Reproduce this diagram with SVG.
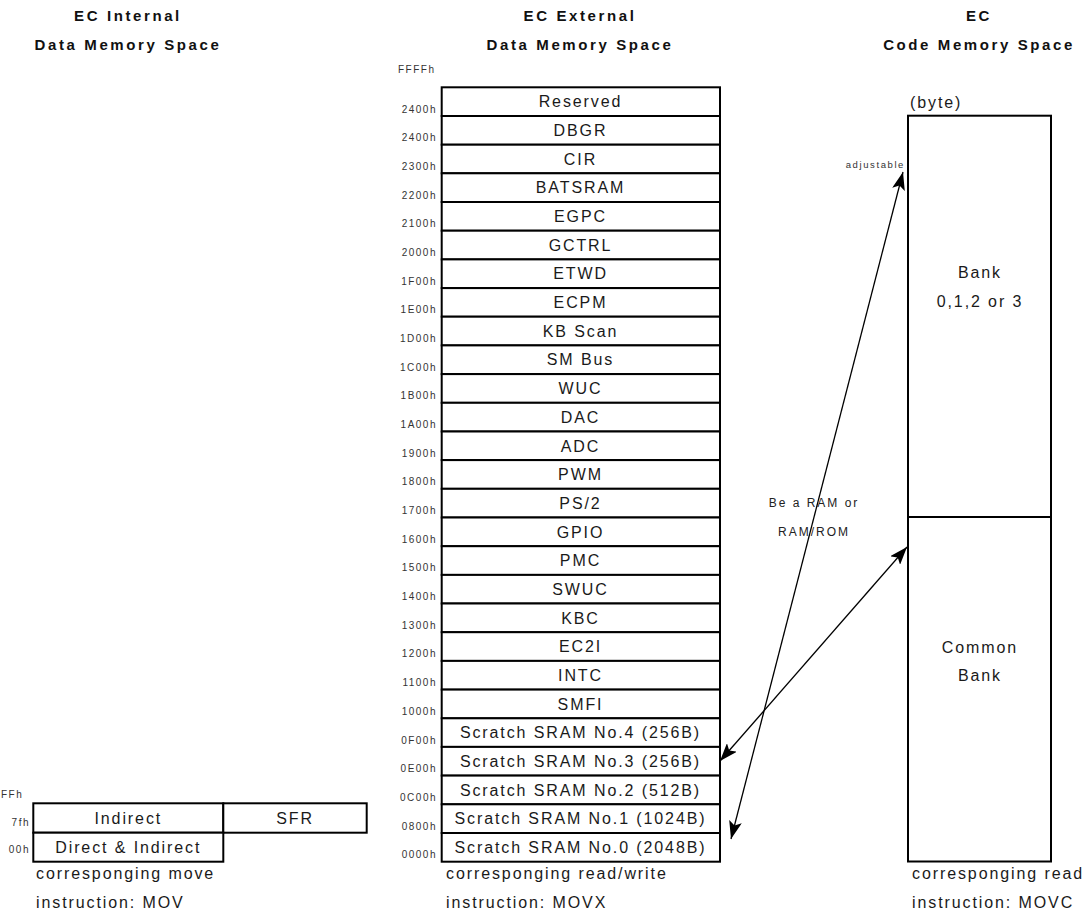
<svg xmlns="http://www.w3.org/2000/svg" width="1084" height="916" viewBox="0 0 1084 916">
<style>
.hdr{font-family:"Liberation Sans",Arial,sans-serif;font-weight:bold;font-size:15px;letter-spacing:2.6px;fill:#111;text-anchor:middle}
.t{font-family:"Liberation Sans",Arial,sans-serif;font-size:16px;letter-spacing:1.9px;fill:#1a1a1a}
.c{text-anchor:middle}
.a{font-family:"Liberation Sans",Arial,sans-serif;font-size:10px;letter-spacing:1.5px;fill:#333;text-anchor:end}
.s{font-family:"Liberation Sans",Arial,sans-serif;font-size:12px;letter-spacing:2px;fill:#222;text-anchor:middle}
.box{fill:#fff;stroke:#000;stroke-width:2}
.conn{stroke:#000;stroke-width:1.3;fill:none;marker-start:url(#ah);marker-end:url(#ah)}
</style>
<defs>
<marker id="ah" viewBox="0 0 18 13" refX="18" refY="6.5" markerWidth="18" markerHeight="13" markerUnits="userSpaceOnUse" orient="auto-start-reverse">
<path d="M0,0 L18,6.5 L0,13 L4,6.5 Z" fill="#000"/>
</marker>
</defs>
<rect width="1084" height="916" fill="#fff"/>

<g id="headers">
<text class="hdr" x="128" y="20.5">EC Internal</text>
<text class="hdr" x="128" y="50">Data Memory Space</text>
<text class="hdr" x="580" y="20.5">EC External</text>
<text class="hdr" x="580" y="50">Data Memory Space</text>
<text class="hdr" x="979" y="20.5">EC</text>
<text class="hdr" x="979" y="50">Code Memory Space</text>
</g>

<g id="internal">
<text class="a" x="1" y="798" style="text-anchor:start">FFh</text>
<g id="int-indirect"><rect class="box" x="33.3" y="803.3" width="190" height="29.4"/><text class="t c" x="128.3" y="824">Indirect</text></g>
<g id="int-sfr"><rect class="box" x="223.3" y="803.3" width="143.4" height="29.4"/><text class="t c" x="295" y="824">SFR</text></g>
<g id="int-direct"><rect class="box" x="33.3" y="832.7" width="190" height="29"/><text class="t c" x="128.3" y="853">Direct &amp; Indirect</text></g>
<text class="a" x="30" y="826">7fh</text>
<text class="a" x="30" y="853">00h</text>
<text class="t" x="36" y="879">corresponging move</text>
<text class="t" x="36" y="908">instruction: MOV</text>
</g>

<g id="external">
<text class="a" x="398" y="73" style="text-anchor:start">FFFFh</text>
<g id="r0"><rect class="box" x="441.7" y="87.3" width="278.3" height="28.7"/><text class="t c" x="580.5" y="107.3">Reserved</text><text class="a" x="437" y="112.5">2400h</text></g>
<g id="r1"><rect class="box" x="441.7" y="116.0" width="278.3" height="28.7"/><text class="t c" x="580.5" y="136.0">DBGR</text><text class="a" x="437" y="141.2">2400h</text></g>
<g id="r2"><rect class="box" x="441.7" y="144.7" width="278.3" height="28.6"/><text class="t c" x="580.5" y="164.7">CIR</text><text class="a" x="437" y="169.9">2300h</text></g>
<g id="r3"><rect class="box" x="441.7" y="173.3" width="278.3" height="28.7"/><text class="t c" x="580.5" y="193.3">BATSRAM</text><text class="a" x="437" y="198.5">2200h</text></g>
<g id="r4"><rect class="box" x="441.7" y="202.0" width="278.3" height="28.7"/><text class="t c" x="580.5" y="222.0">EGPC</text><text class="a" x="437" y="227.2">2100h</text></g>
<g id="r5"><rect class="box" x="441.7" y="230.7" width="278.3" height="28.7"/><text class="t c" x="580.5" y="250.7">GCTRL</text><text class="a" x="437" y="255.9">2000h</text></g>
<g id="r6"><rect class="box" x="441.7" y="259.4" width="278.3" height="28.7"/><text class="t c" x="580.5" y="279.4">ETWD</text><text class="a" x="437" y="284.6">1F00h</text></g>
<g id="r7"><rect class="box" x="441.7" y="288.1" width="278.3" height="28.6"/><text class="t c" x="580.5" y="308.1">ECPM</text><text class="a" x="437" y="313.3">1E00h</text></g>
<g id="r8"><rect class="box" x="441.7" y="316.7" width="278.3" height="28.7"/><text class="t c" x="580.5" y="336.7">KB Scan</text><text class="a" x="437" y="341.9">1D00h</text></g>
<g id="r9"><rect class="box" x="441.7" y="345.4" width="278.3" height="28.7"/><text class="t c" x="580.5" y="365.4">SM Bus</text><text class="a" x="437" y="370.6">1C00h</text></g>
<g id="r10"><rect class="box" x="441.7" y="374.1" width="278.3" height="28.7"/><text class="t c" x="580.5" y="394.1">WUC</text><text class="a" x="437" y="399.3">1B00h</text></g>
<g id="r11"><rect class="box" x="441.7" y="402.8" width="278.3" height="28.7"/><text class="t c" x="580.5" y="422.8">DAC</text><text class="a" x="437" y="428.0">1A00h</text></g>
<g id="r12"><rect class="box" x="441.7" y="431.5" width="278.3" height="28.6"/><text class="t c" x="580.5" y="451.5">ADC</text><text class="a" x="437" y="456.7">1900h</text></g>
<g id="r13"><rect class="box" x="441.7" y="460.1" width="278.3" height="28.7"/><text class="t c" x="580.5" y="480.1">PWM</text><text class="a" x="437" y="485.3">1800h</text></g>
<g id="r14"><rect class="box" x="441.7" y="488.8" width="278.3" height="28.7"/><text class="t c" x="580.5" y="508.8">PS/2</text><text class="a" x="437" y="514.0">1700h</text></g>
<g id="r15"><rect class="box" x="441.7" y="517.5" width="278.3" height="28.7"/><text class="t c" x="580.5" y="537.5">GPIO</text><text class="a" x="437" y="542.7">1600h</text></g>
<g id="r16"><rect class="box" x="441.7" y="546.2" width="278.3" height="28.7"/><text class="t c" x="580.5" y="566.2">PMC</text><text class="a" x="437" y="571.4">1500h</text></g>
<g id="r17"><rect class="box" x="441.7" y="574.9" width="278.3" height="28.6"/><text class="t c" x="580.5" y="594.9">SWUC</text><text class="a" x="437" y="600.1">1400h</text></g>
<g id="r18"><rect class="box" x="441.7" y="603.5" width="278.3" height="28.7"/><text class="t c" x="580.5" y="623.5">KBC</text><text class="a" x="437" y="628.7">1300h</text></g>
<g id="r19"><rect class="box" x="441.7" y="632.2" width="278.3" height="28.7"/><text class="t c" x="580.5" y="652.2">EC2I</text><text class="a" x="437" y="657.4">1200h</text></g>
<g id="r20"><rect class="box" x="441.7" y="660.9" width="278.3" height="28.7"/><text class="t c" x="580.5" y="680.9">INTC</text><text class="a" x="437" y="686.1">1100h</text></g>
<g id="r21"><rect class="box" x="441.7" y="689.6" width="278.3" height="28.7"/><text class="t c" x="580.5" y="709.6">SMFI</text><text class="a" x="437" y="714.8">1000h</text></g>
<g id="r22"><rect class="box" x="441.7" y="718.3" width="278.3" height="28.6"/><text class="t c" x="580.5" y="738.3">Scratch SRAM No.4 (256B)</text><text class="a" x="437" y="743.5">0F00h</text></g>
<g id="r23"><rect class="box" x="441.7" y="746.9" width="278.3" height="28.7"/><text class="t c" x="580.5" y="766.9">Scratch SRAM No.3 (256B)</text><text class="a" x="437" y="772.1">0E00h</text></g>
<g id="r24"><rect class="box" x="441.7" y="775.6" width="278.3" height="28.7"/><text class="t c" x="580.5" y="795.6">Scratch SRAM No.2 (512B)</text><text class="a" x="437" y="800.8">0C00h</text></g>
<g id="r25"><rect class="box" x="441.7" y="804.3" width="278.3" height="28.7"/><text class="t c" x="580.5" y="824.3">Scratch SRAM No.1 (1024B)</text><text class="a" x="437" y="829.5">0800h</text></g>
<g id="r26"><rect class="box" x="441.7" y="833.0" width="278.3" height="28.7"/><text class="t c" x="580.5" y="853.0">Scratch SRAM No.0 (2048B)</text><text class="a" x="437" y="858.2">0000h</text></g>
<text class="t" x="446" y="879">corresponging read/write</text>
<text class="t" x="446" y="908">instruction: MOVX</text>
</g>

<g id="code">
<text class="t" x="910" y="108">(byte)</text>
<g id="bank"><rect class="box" x="908" y="115.7" width="143" height="401.3"/><text class="t c" x="980" y="278.3">Bank</text><text class="t c" x="980" y="307.3">0,1,2 or 3</text></g>
<g id="common"><rect class="box" x="908" y="517" width="143" height="344.5"/><text class="t c" x="980" y="653">Common</text><text class="t c" x="980" y="681">Bank</text></g>
<text class="t" x="912" y="879">corresponging read</text>
<text class="t" x="912" y="908">instruction: MOVC</text>
</g>

<g id="labels">
<text class="a" x="905" y="168" style="font-size:9.5px;letter-spacing:1.6px">adjustable</text>
<text class="s" x="814" y="507.3">Be a RAM or</text>
<text class="s" x="814" y="535.7">RAM/ROM</text>
</g>

<g id="connectors">
<line class="conn" x1="731" y1="839" x2="903" y2="172"/>
<line class="conn" x1="720" y1="761" x2="907" y2="547"/>
</g>
</svg>
